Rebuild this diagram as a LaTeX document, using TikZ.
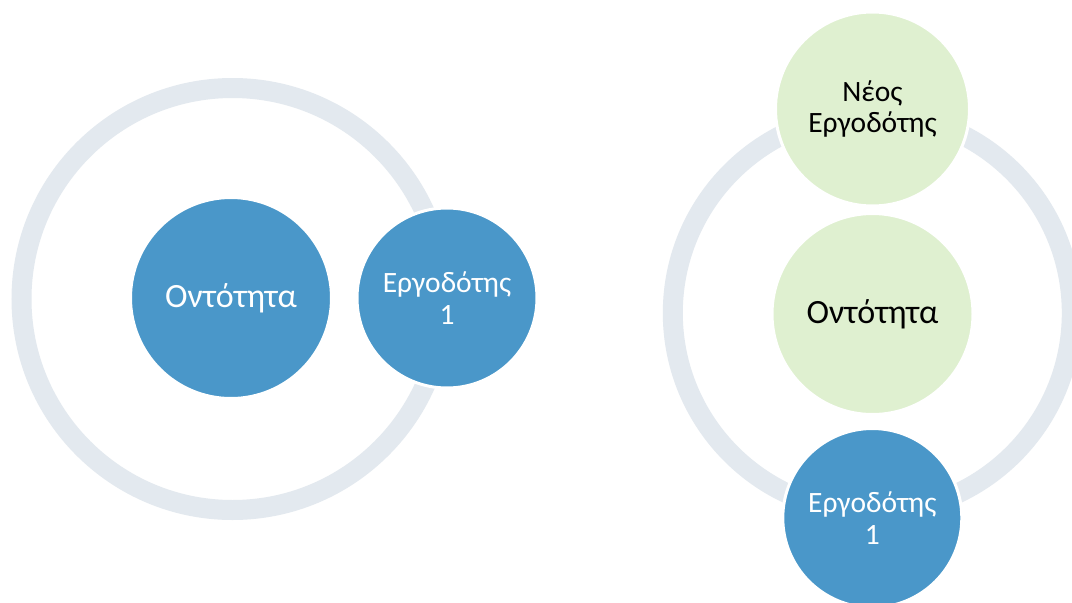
\documentclass[tikz,border=0pt]{standalone}
\usepackage{fontspec}
\setmainfont{Carlito}
\definecolor{ringc}{HTML}{E3E9EF}
\definecolor{blu}{HTML}{4A97C9}
\definecolor{grn}{HTML}{DFF0D0}
\begin{document}
\begin{tikzpicture}[x=1pt,y=-1pt,
  ringnode/.style={circle, draw=ringc, line width=20pt, inner sep=0pt},
  disc/.style={circle, draw=white, line width=3pt, inner sep=0pt, align=center},
  bluedisc/.style={disc, fill=blu, text=white},
  greendisc/.style={disc, fill=grn, text=black},
  bigtxt/.style={font=\fontsize{34}{38}\selectfont},
  smalltxt/.style={font=\fontsize{29.5}{31.5}\selectfont}]
\path[use as bounding box, fill=white] (0,0) rectangle (1072,603);
\clip (0,0) rectangle (1072,603);
% left group
\node[ringnode, minimum size=422pt] (ringL) at (232.5,299) {};
\node[bluedisc, bigtxt, minimum size=201pt] (entL) at (231,298) {Οντότητα};
\node[bluedisc, smalltxt, minimum size=180pt] (empL) at (447,298) {Εργοδότης\\1};
% right group
\node[ringnode, minimum size=399pt] (ringR) at (872.3,313) {};
\node[greendisc, smalltxt, minimum size=194pt] (newR) at (872.5,109) {Νέος\\Εργοδότης};
\node[greendisc, bigtxt, minimum size=201pt] (entR) at (872.5,314) {Οντότητα};
\node[bluedisc, smalltxt, minimum size=179pt] (empR) at (872.3,518) {Εργοδότης\\1};
\end{tikzpicture}
\end{document}
